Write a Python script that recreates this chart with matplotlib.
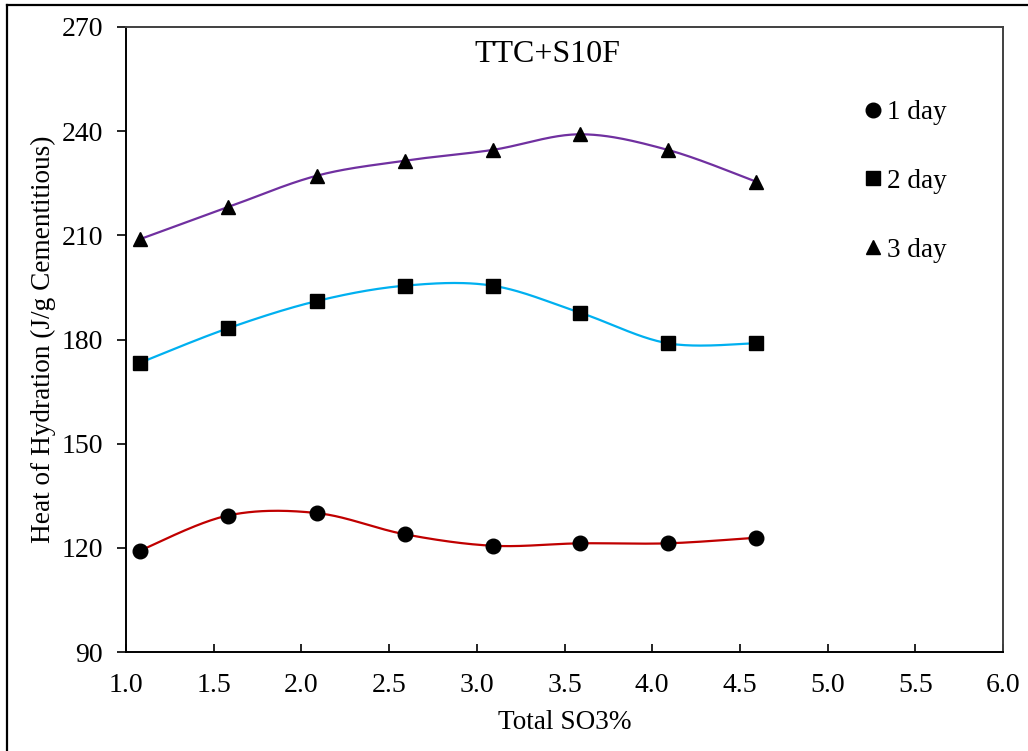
# Heat of hydration vs total SO3 - TTC+S10F
import numpy as np
import matplotlib
matplotlib.use('Agg')
import matplotlib.pyplot as plt
from matplotlib.lines import Line2D

plt.rcParams['font.family'] = ['Liberation Serif', 'DejaVu Serif']

# Data
so3 = [1.08, 1.58, 2.09, 2.59, 3.09, 3.59, 4.09, 4.59]
day1 = [119.2, 129.3, 130.0, 123.9, 120.6, 121.3, 121.3, 122.9]
day2 = [173.3, 183.2, 191.1, 195.5, 195.5, 187.7, 178.9, 178.9]
day3 = [208.9, 218.1, 227.2, 231.5, 234.6, 239.1, 234.6, 225.5]
labels = ['1 day', '2 day', '3 day']
line_colors = ['#C00000', '#00B0F0', '#7030A0']
markers = ['o', 's', '^']
msizes = [10.5, 10.5, 10]


def smooth_line(x, y, n=40):
    # Excel-style smoothed line (Catmull-Rom as cubic Bezier)
    x = np.asarray(x, float)
    y = np.asarray(y, float)
    px = np.concatenate([[x[0]], x, [x[-1]]])
    py = np.concatenate([[y[0]], y, [y[-1]]])
    t = np.linspace(0, 1, n)
    xs, ys = [], []
    for i in range(1, len(px) - 2):
        p0 = np.array([px[i], py[i]])
        p3 = np.array([px[i + 1], py[i + 1]])
        c1 = p0 + (p3 - np.array([px[i - 1], py[i - 1]])) / 6
        c2 = p3 - (np.array([px[i + 2], py[i + 2]]) - p0) / 6
        b = ((1 - t) ** 3)[:, None] * p0 + (3 * (1 - t) ** 2 * t)[:, None] * c1 \
            + (3 * (1 - t) * t ** 2)[:, None] * c2 + (t ** 3)[:, None] * p3
        xs.append(b[:, 0])
        ys.append(b[:, 1])
    return np.concatenate(xs), np.concatenate(ys)


fig = plt.figure(figsize=(10.28, 7.51), dpi=100)
ax = fig.add_axes([126 / 1028, 1 - 652 / 751, 877 / 1028, 625 / 751])

# outer frame (left and top edges are the only ones inside the picture)
fx, fy = 6.5 / 1028, 1 - 4.5 / 751
fig.add_artist(Line2D([fx, fx], [-0.1, fy], transform=fig.transFigure,
                      color='black', linewidth=1.6))
fig.add_artist(Line2D([fx, 1.1], [fy, fy], transform=fig.transFigure,
                      color='black', linewidth=1.6))

for vals, c, m, ms in zip([day1, day2, day3], line_colors, markers, msizes):
    sx, sy = smooth_line(so3, vals)
    ax.plot(sx, sy, color=c, linewidth=1.6, zorder=2)
    ax.plot(so3, vals, linestyle='none', marker=m, color='black',
            markersize=ms, zorder=3)

ax.set_xlim(1.0, 6.0)
ax.set_ylim(90, 270)
ax.set_xticks(np.arange(1.0, 6.01, 0.5))
ax.set_yticks(np.arange(90, 271, 30))
ax.xaxis.set_major_formatter(matplotlib.ticker.FormatStrFormatter('%.1f'))

ax.tick_params(axis='x', direction='in', length=6, width=1.2, pad=15,
               labelsize=20, colors='black')
ax.tick_params(axis='y', direction='out', length=6.5, width=1.2, pad=10,
               labelsize=20, colors='black')
for s in ax.spines.values():
    s.set_linewidth(1.4)
    s.set_color('#404040')
ax.spines['left'].set_color('black')
ax.spines['bottom'].set_color('black')

ax.set_xlabel('Total SO3%', fontsize=19.6, labelpad=9)
ax.set_ylabel('Heat of Hydration (J/g Cementitious)', fontsize=19.6, labelpad=4)

ax.text(0.481, 0.979, 'TTC+S10F', transform=ax.transAxes, ha='center',
        va='top', fontsize=23)

handles = [Line2D([], [], linestyle='none', marker=m, color='black',
                  markersize=ms) for m, ms in zip(markers, msizes)]
ax.legend(handles, labels, loc='upper left',
          bbox_to_anchor=(865 / 1028, 1 - 100 / 751), bbox_transform=fig.transFigure,
          frameon=False, fontsize=19.5, handlelength=0.6, handletextpad=0.2,
          labelspacing=1.62, borderaxespad=0, borderpad=0)

fig.savefig('out.png', dpi=100)
